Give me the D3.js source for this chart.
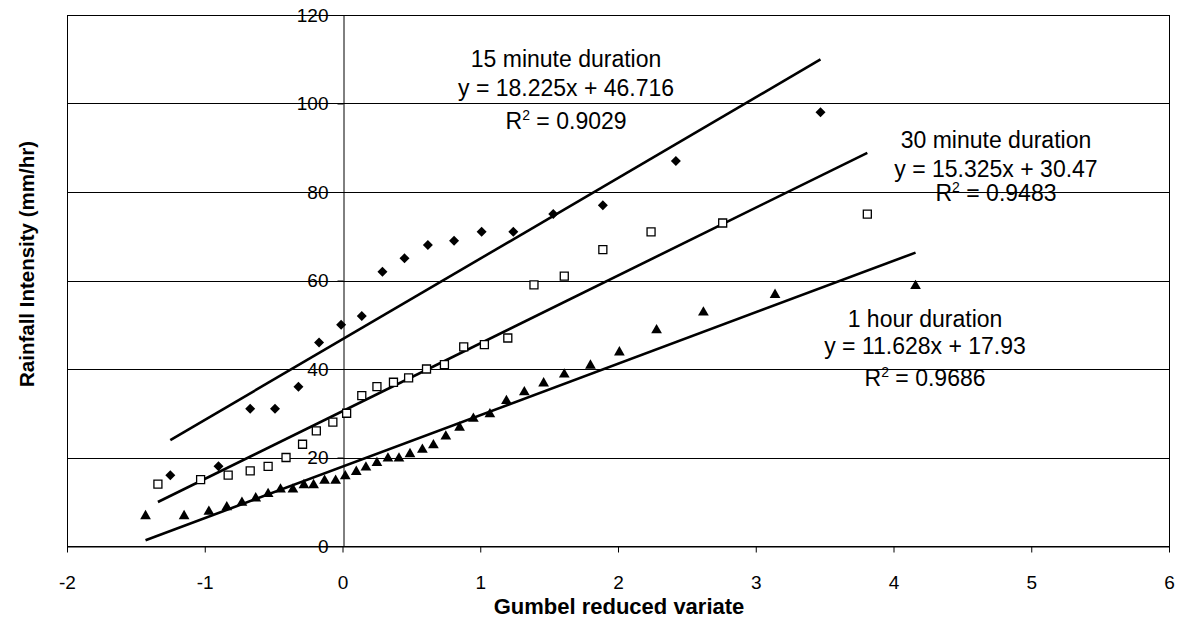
<!DOCTYPE html>
<html>
<head>
<meta charset="utf-8">
<script src="https://cdn.jsdelivr.net/npm/d3@7"></script>
<style>
  body { margin: 0; background: #fff; }
  svg { font-family: "Liberation Sans", Arial, sans-serif; }
</style>
</head>
<body>
<svg></svg>
<script>
// data
const x15 = [-1.25, -0.90, -0.67, -0.49, -0.32, -0.17, -0.01, 0.14, 0.29, 0.45, 0.62, 0.81, 1.01, 1.24, 1.53, 1.89, 2.42, 3.47]
const y15 = [16, 18, 31, 31, 36, 46, 50, 52, 62, 65, 68, 69, 71, 71, 75, 77, 87, 98]

const x30 = [-1.34, -1.03, -0.83, -0.67, -0.54, -0.41, -0.29, -0.19, -0.07, 0.03, 0.14, 0.25, 0.37, 0.48, 0.61, 0.74, 0.88, 1.03, 1.20, 1.39, 1.61, 1.89, 2.24, 2.76, 3.81]
const y30 = [14, 15, 16, 17, 18, 20, 23, 26, 28, 30, 34, 36, 37, 38, 40, 41, 45, 45.5, 47, 59, 61, 67, 71, 73, 75]

const x60 = [-1.43, -1.15, -0.97, -0.84, -0.73, -0.63, -0.54, -0.45, -0.36, -0.28, -0.21, -0.13, -0.05, 0.02, 0.10, 0.17, 0.25, 0.33, 0.41, 0.49, 0.58, 0.66, 0.75, 0.85, 0.95, 1.07, 1.19, 1.32, 1.46, 1.61, 1.80, 2.01, 2.28, 2.62, 3.14, 4.16]
const y60 = [7, 7, 8, 9, 10, 11, 12, 13, 13, 14, 14, 15, 15, 16, 17, 18, 19, 20, 20, 21, 22, 23, 25, 27, 29, 30, 33, 35, 37, 39, 41, 44, 49, 53, 57, 59]

const seriesNames = ['15 minute duration', '30 minute duration', '1 hour duration']
const slopes = [18.225, 15.325, 11.628]
const intercepts = [46.716, 30.47, 17.93]
const rSquared = ['0.9029', '0.9483', '0.9686']
const equations = ['y = 18.225x + 46.716', 'y = 15.325x + 30.47', 'y = 11.628x + 17.93']

const xTicks = [-2, -1, 0, 1, 2, 3, 4, 5, 6]
const yTicks = [0, 20, 40, 60, 80, 100, 120]

const xTitle = 'Gumbel reduced variate'
const yTitle = 'Rainfall Intensity (mm/hr)'

// layout
const width = 1181
const height = 625
const plot = { left: 67, top: 15, right: 1169, bottom: 546 }

// label anchors (data units) and line offsets (px)
const labelAnchors = [[1.623, 108.2], [4.744, 89.9], [4.229, 49.5]]
const labelOffsets = [[0, 28.5, 61.5], [0, 29, 53], [0, 27.5, 59.5]]

let svg = d3.select('svg')
let xScale
let yScale

function drawCanvas() {
    svg.attr('width', width).attr('height', height)
}

function generateScales() {
    xScale = d3.scaleLinear().domain([-2, 6]).range([plot.left, plot.right])
    yScale = d3.scaleLinear().domain([0, 120]).range([plot.bottom, plot.top])
}

function drawGrid() {
    svg.append('g')
        .selectAll('line')
        .data(yTicks.filter(d => d > 0))
        .enter()
        .append('line')
        .attr('x1', plot.left)
        .attr('x2', plot.right)
        .attr('y1', d => Math.round(yScale(d)) + 0.5)
        .attr('y2', d => Math.round(yScale(d)) + 0.5)
        .attr('stroke', '#000')
        .attr('stroke-width', 1)

    svg.append('rect')
        .attr('x', plot.left + 0.5)
        .attr('y', plot.top + 0.5)
        .attr('width', plot.right - plot.left)
        .attr('height', plot.bottom - plot.top)
        .attr('fill', 'none')
        .attr('stroke', '#000')
        .attr('stroke-width', 1)
}

function generateAxes() {
    let xAxis = d3.axisBottom(xScale)
        .tickValues(xTicks)
        .tickSize(6)
        .tickSizeOuter(0)
        .tickFormat(d => String(d))

    let yAxis = d3.axisLeft(yScale)
        .tickValues(yTicks)
        .tickSize(6)
        .tickSizeOuter(0)
        .tickPadding(9)

    let gx = svg.append('g')
        .attr('transform', 'translate(0,' + (plot.bottom + 0.5) + ')')
        .call(xAxis)
    let gy = svg.append('g')
        .attr('transform', 'translate(' + (Math.round(xScale(0)) + 0.5) + ',0)')
        .call(yAxis)

    ;[gx, gy].forEach(g => {
        g.selectAll('text')
            .attr('font-size', 19)
            .attr('fill', '#000')
            .attr('font-family', '"Liberation Sans", Arial, sans-serif')
        g.selectAll('line').attr('stroke', '#000')
        g.select('.domain').attr('stroke', '#000')
    })
    gx.selectAll('text').attr('dy', '0.71em').attr('y', 29)

    svg.append('text')
        .attr('x', 619)
        .attr('y', 614)
        .attr('text-anchor', 'middle')
        .attr('font-size', 22)
        .attr('font-weight', 'bold')
        .text(xTitle)

    svg.append('text')
        .attr('transform', 'translate(34,264) rotate(-90)')
        .attr('text-anchor', 'middle')
        .attr('font-size', 20.5)
        .attr('font-weight', 'bold')
        .text(yTitle)
}

function drawTrendlines() {
    let xs = [x15, x30, x60]
    svg.append('g')
        .selectAll('line')
        .data(slopes)
        .enter()
        .append('line')
        .attr('x1', (d, i) => xScale(d3.min(xs[i])))
        .attr('x2', (d, i) => xScale(d3.max(xs[i])))
        .attr('y1', (d, i) => yScale(d * d3.min(xs[i]) + intercepts[i]))
        .attr('y2', (d, i) => yScale(d * d3.max(xs[i]) + intercepts[i]))
        .attr('stroke', '#000')
        .attr('stroke-width', 2.6)
}

function drawPoints() {
    let diamond = d3.symbol().type(d3.symbolSquare).size(50)
    let square = d3.symbol().type(d3.symbolSquare).size(64)
    let triangle = d3.symbol().type(d3.symbolTriangle).size(50)

    svg.append('g')
        .selectAll('path')
        .data(x15)
        .enter()
        .append('path')
        .attr('d', diamond)
        .attr('transform', (d, i) => 'translate(' + xScale(d) + ',' + yScale(y15[i]) + ') rotate(45)')
        .attr('fill', '#000')

    svg.append('g')
        .selectAll('path')
        .data(x30)
        .enter()
        .append('path')
        .attr('d', square)
        .attr('transform', (d, i) => 'translate(' + xScale(d) + ',' + yScale(y30[i]) + ')')
        .attr('fill', '#fff')
        .attr('stroke', '#000')
        .attr('stroke-width', 1.3)

    svg.append('g')
        .selectAll('path')
        .data(x60)
        .enter()
        .append('path')
        .attr('d', triangle)
        .attr('transform', (d, i) => 'translate(' + xScale(d) + ',' + (yScale(y60[i]) + 1) + ')')
        .attr('fill', '#000')
}

function drawLabels() {
    seriesNames.forEach((name, i) => {
        let cx = xScale(labelAnchors[i][0])
        let by = yScale(labelAnchors[i][1])
        let g = svg.append('g')
            .attr('text-anchor', 'middle')
            .attr('font-size', 23)
            .attr('fill', '#000')

        g.append('text').attr('x', cx).attr('y', by + labelOffsets[i][0]).text(name)
        g.append('text').attr('x', cx).attr('y', by + labelOffsets[i][1]).text(equations[i])

        let r = g.append('text').attr('x', cx).attr('y', by + labelOffsets[i][2])
        r.append('tspan').text('R')
        r.append('tspan').attr('font-size', 14).attr('dy', -9).text('2')
        r.append('tspan').attr('dy', 9).text(' = ' + rSquared[i])
    })
}

function main() {
    drawCanvas()
    generateScales()
    drawGrid()
    generateAxes()
    drawTrendlines()
    drawPoints()
    drawLabels()
}

main()
</script>
</body>
</html>
